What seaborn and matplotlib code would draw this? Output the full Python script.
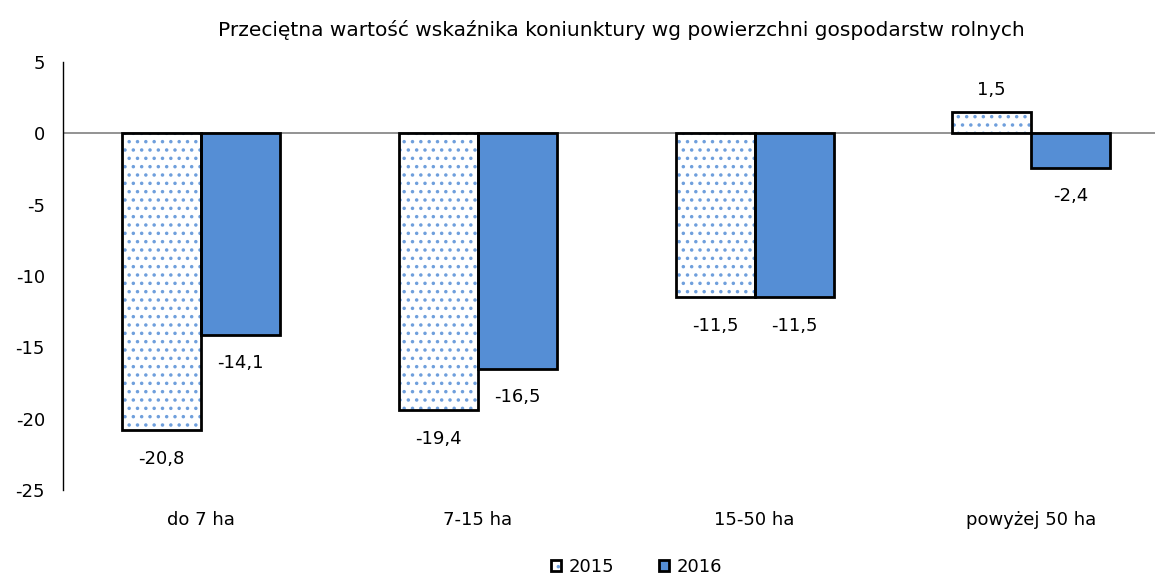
import matplotlib
matplotlib.use("Agg")
import matplotlib.pyplot as plt
from matplotlib.patches import Patch, Rectangle
from matplotlib.legend_handler import HandlerTuple
import seaborn as sns
import pandas as pd

categories = ["do 7 ha", "7-15 ha", "15-50 ha", "powyżej 50 ha"]
years = ["2015", "2016"]
values_2015 = [-20.8, -19.4, -11.5, 1.5]
values_2016 = [-14.1, -16.5, -11.5, -2.4]
yticks = [5, 0, -5, -10, -15, -20, -25]
title = "Przeciętna wartość wskaźnika koniunktury wg powierzchni gospodarstw rolnych"

blue = "#558ED5"
dot_blue = "#6F9FDC"

df = pd.DataFrame({
    "kategoria": categories * 2,
    "rok": [years[0]] * 4 + [years[1]] * 4,
    "wartosc": values_2015 + values_2016,
})

sns.set_style("white")
plt.rcParams["font.family"] = ["DejaVu Sans"]
plt.rcParams["text.color"] = "black"
plt.rcParams["xtick.color"] = "black"
plt.rcParams["ytick.color"] = "black"
plt.rcParams["hatch.linewidth"] = 1.3

FS = 13

fig = plt.figure(figsize=(11.55, 5.82), dpi=100)
ax = fig.add_axes([0.0545, 0.158, 0.9455, 0.7355])

sns.barplot(data=df, x="kategoria", y="wartosc", hue="rok", order=categories,
            hue_order=years, palette=["white", blue], width=0.572,
            ax=ax, legend=False, errorbar=None)

n = len(categories)
bars = [p for p in ax.patches if isinstance(p, Rectangle)]
outlines = []
for i, p in enumerate(bars):
    if i < n:
        p.set_facecolor("white")
        p.set_edgecolor(dot_blue)
        p.set_hatch("..")
        p.set_linewidth(0)
    else:
        p.set_facecolor(blue)
        p.set_linewidth(0)
    outlines.append(Rectangle(p.get_xy(), p.get_width(), p.get_height(),
                              fill=False, edgecolor="black", linewidth=2, zorder=3))
for r in outlines:
    ax.add_patch(r)

# value labels
for i, p in enumerate(bars):
    v = p.get_height()
    x = p.get_x() + p.get_width() / 2
    off = 16 if v > 0 else -20.5
    ax.annotate(f"{v:.1f}".replace(".", ","), (x, v), xytext=(0, off),
                textcoords="offset points", ha="center", va="center", fontsize=FS)

ax.axhline(0, color="#808080", linewidth=1.2, zorder=1)
ax.set_xlim(-0.5, 3.447)
ax.set_ylim(-25, 5)
ax.set_yticks(yticks)
ax.set_yticklabels([str(t) for t in yticks], fontsize=FS)
ax.tick_params(axis="y", length=0, pad=13)
ax.tick_params(axis="x", length=0, pad=15, labelsize=FS)
ax.set_xlabel("")
ax.set_ylabel("")
for s in ["top", "right", "bottom"]:
    ax.spines[s].set_visible(False)
ax.spines["left"].set_color("black")
ax.spines["left"].set_linewidth(1.0)

fig.text(0.538, 0.948, title, ha="center", va="center", fontsize=14.5)

h15 = (Patch(facecolor="white", edgecolor=dot_blue, hatch="..", linewidth=0),
       Patch(fill=False, edgecolor="black", linewidth=2))
h16 = (Patch(facecolor=blue, linewidth=0),
       Patch(fill=False, edgecolor="black", linewidth=2))
fig.legend([h15, h16], years, handler_map={tuple: HandlerTuple(ndivide=1)},
           loc="center", bbox_to_anchor=(0.551, 0.026), ncol=2, frameon=False,
           fontsize=FS, handlelength=0.55, handleheight=0.55, handletextpad=0.45,
           columnspacing=2.45, borderpad=0)

fig.savefig("out.png", dpi=100)
